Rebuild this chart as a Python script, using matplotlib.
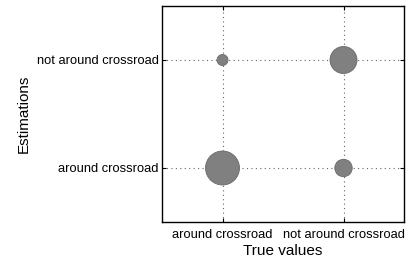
import matplotlib
matplotlib.use("Agg")
import matplotlib.pyplot as plt
import numpy as np

plt.rcParams['font.family'] = ['Liberation Sans', 'DejaVu Sans']

true_labels = ["around crossroad", "not around crossroad"]
est_labels = ["around crossroad", "not around crossroad"]
# counts[est][true]
counts = np.array([[95, 25],
                   [10, 60]])

fig = plt.figure(figsize=(4.15, 2.61), dpi=100)
ax = fig.add_axes([162/415, 1-222/261, (404-162)/415, (222-6)/261])

xs, ys, ss = [], [], []
for i in range(2):
    for j in range(2):
        xs.append(j); ys.append(i); ss.append(counts[i][j] * 6.3)

ax.grid(True, linestyle=(0, (1, 3)), color='#666666', linewidth=0.8, zorder=0)
ax.scatter(xs, ys, s=ss, c='#808080', edgecolors='#6a6a6a', linewidths=0.6, zorder=3)

ax.set_xlim(-0.5, 1.5)
ax.set_ylim(-0.5, 1.5)
ax.set_xticks([0, 1])
ax.set_xticklabels(true_labels, fontsize=9.3)
ax.set_yticks([0, 1])
ax.set_yticklabels(est_labels, fontsize=9.3)
ax.tick_params(direction='in', length=3, top=True, right=True)
ax.tick_params(axis='x', pad=5)
ax.tick_params(axis='y', pad=2.5)
for sp in ax.spines.values():
    sp.set_linewidth(1.0)
ax.set_xlabel("True values", fontsize=11, labelpad=2)
ax.set_ylabel("Estimations", fontsize=11, labelpad=4)

fig.savefig("out.png", dpi=100)
